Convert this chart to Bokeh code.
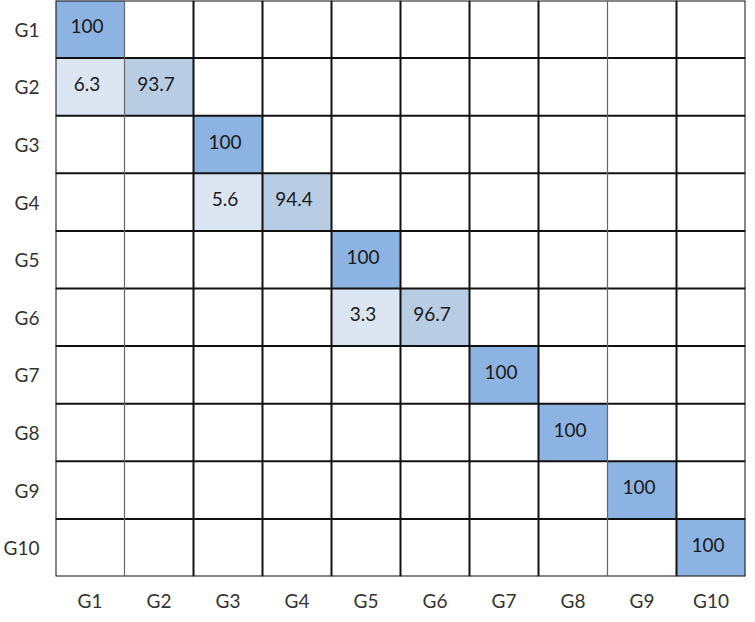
from bokeh.plotting import figure
from bokeh.models import ColumnDataSource, Range1d, FixedTicker
from bokeh.core.properties import value
from bokeh.embed import file_html
from bokeh.resources import INLINE

groups = ["G1", "G2", "G3", "G4", "G5", "G6", "G7", "G8", "G9", "G10"]
# non-empty cells: (row/actual, column/predicted, percent)
rows = ["G1", "G2", "G2", "G3", "G4", "G4", "G5", "G6", "G6", "G7", "G8", "G9", "G10"]
cols = ["G1", "G1", "G2", "G3", "G3", "G4", "G5", "G5", "G6", "G7", "G8", "G9", "G10"]
vals = [100, 6.3, 93.7, 100, 5.6, 94.4, 100, 3.3, 96.7, 100, 100, 100, 100]
# vertical borders drawn thin/grey in the original (between these column pairs)
thin_after = ["G1", "G8"]

FONT = "Lato"

def shade(v):
    if v >= 99.5:
        return "#8DB3E2"
    if v >= 50:
        return "#B8CCE4"
    return "#DCE6F2"

idx = {g: i for i, g in enumerate(groups)}
n = len(groups)

cells = ColumnDataSource(dict(
    x=[idx[c] + 0.5 for c in cols],
    y=[idx[r] + 0.5 for r in rows],
    c=[shade(v) for v in vals],
    t=[("%g" % v) for v in vals],
))

p = figure(width=746, height=614, output_backend="svg", toolbar_location=None,
           x_range=Range1d(0, n), y_range=Range1d(n, 0),
           min_border_left=44, min_border_right=1, min_border_top=0, min_border_bottom=27)
p.rect(x="x", y="y", width=1, height=1, source=cells, fill_color="c", line_color=None)

# horizontal borders
hs = list(range(n + 1))
p.segment(x0=[0] * len(hs), x1=[n] * len(hs), y0=hs, y1=hs, line_color="#111111", line_width=2)
# vertical borders
thick = [i for i in range(n + 1) if not (1 <= i <= n - 1 and groups[i - 1] in thin_after)]
thin = [idx[g] + 1 for g in thin_after]
p.segment(x0=thick, x1=thick, y0=[0] * len(thick), y1=[n] * len(thick),
          line_color="#111111", line_width=2)
p.segment(x0=thin, x1=thin, y0=[0] * len(thin), y1=[n] * len(thin),
          line_color="#666666", line_width=1.2)

p.text(x="x", y="y", text="t", source=cells, text_align="center", text_baseline="middle",
       x_offset=-3, y_offset=-3, text_font=value(FONT),
       text_font_size="19px", text_color="#1a1a1a")

ticks = [i + 0.5 for i in range(n)]
overrides = {t: g for t, g in zip(ticks, groups)}
for ax in (p.xaxis, p.yaxis):
    ax.ticker = FixedTicker(ticks=ticks)
    ax.major_label_overrides = overrides
    ax.axis_line_color = None
    ax.major_tick_line_color = None
    ax.minor_tick_line_color = None
    ax.major_label_text_font = FONT
    ax.major_label_text_font_size = "19px"
    ax.major_label_text_color = "#333333"
p.xaxis.major_label_standoff = 6
p.yaxis.major_label_standoff = 10
p.xgrid.grid_line_color = None
p.ygrid.grid_line_color = None
p.outline_line_color = None

open("out.html", "w").write(file_html(p, INLINE))
